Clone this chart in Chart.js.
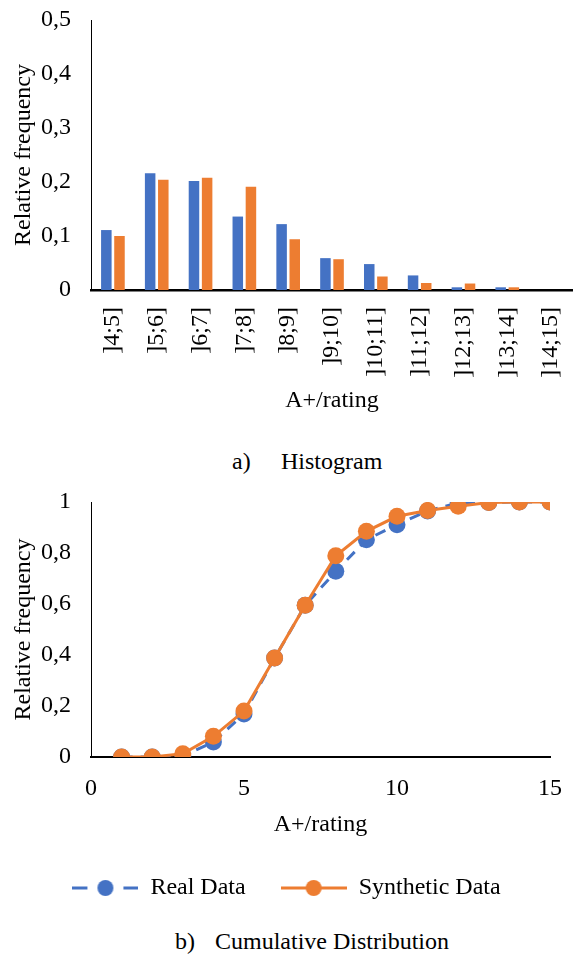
<!DOCTYPE html>
<html>
<head>
<meta charset="utf-8">
<script src="https://cdn.jsdelivr.net/npm/chart.js@4.4.0/dist/chart.umd.min.js"></script>
<style>
	body { margin: 0; background: #fff; width: 573px; height: 954px; position: relative; overflow: hidden; font-family: "Liberation Serif", serif; }
	canvas { position: absolute; left: 0; }
	.cap { position: absolute; font-size: 24px; color: #000; white-space: pre; line-height: 28px; }
</style>
</head>
<body>
<canvas id="histChart" width="573" height="430" style="top:0"></canvas>
<span class="cap" style="top:447px;left:232px">a)</span>
<span class="cap" style="top:447px;left:281px">Histogram</span>
<canvas id="cumChart" width="573" height="430" style="top:480px"></canvas>
<span class="cap" style="top:927px;left:175px">b)</span>
<span class="cap" style="top:927px;left:215px">Cumulative Distribution</span>

<script>
// Dados do histograma
const categorias = ["]4;5]", "]5;6]", "]6;7]", "]7;8]", "]8;9]", "]9;10]", "]10;11]", "]11;12]", "]12;13]", "]13;14]", "]14;15]"];
const freqReal = [0.111, 0.216, 0.202, 0.136, 0.122, 0.059, 0.048, 0.027, 0.005, 0.005, 0];
const freqSintetico = [0.100, 0.204, 0.208, 0.191, 0.094, 0.057, 0.025, 0.013, 0.012, 0.005, 0];

// Dados da distribuição acumulada
const notas = [1, 2, 3, 4, 5, 6, 7, 8, 9, 10, 11, 12, 13, 14, 15];
const acumReal = [0, 0, 0.003, 0.059, 0.169, 0.388, 0.595, 0.728, 0.852, 0.911, 0.965, 0.996, 0.998, 1, 1];
const acumSintetico = [0, 0, 0.013, 0.081, 0.180, 0.388, 0.595, 0.789, 0.885, 0.944, 0.967, 0.983, 0.998, 1, 1];

const azul = "#4472C4";
const laranja = "#ED7D31";
const fonte = { family: "'Liberation Serif', serif", size: 24 };

Chart.defaults.color = "#000";
Chart.defaults.font = fonte;

function formatarVirgula(v) {
	return parseFloat(Number(v).toFixed(2)).toString().replace(".", ",");
}

// Histograma
new Chart(document.getElementById("histChart"), {
	type: "bar",
	data: {
		labels: categorias,
		datasets: [
			{ label: "Real Data", data: freqReal, backgroundColor: azul, barPercentage: 0.8, categoryPercentage: 0.6 },
			{ label: "Synthetic Data", data: freqSintetico, backgroundColor: laranja, barPercentage: 0.8, categoryPercentage: 0.6 },
		],
	},
	options: {
		responsive: false,
		animation: false,
		layout: { padding: { top: 20, right: 0, left: 0, bottom: 0 } },
		plugins: { legend: { display: false }, tooltip: { enabled: false } },
		scales: {
			x: {
				grid: { display: false, drawTicks: false },
				border: { color: "#000", width: 2.5 },
				ticks: { minRotation: 90, maxRotation: 90, padding: 17, font: fonte, autoSkip: false },
				title: { display: true, text: "A+/rating", font: fonte, padding: { bottom: 15 } },
				afterFit: (s) => { s.height = 140; s.paddingLeft = 0; s.paddingRight = 0; },
			},
			y: {
				min: 0,
				max: 0.5,
				grid: { display: false, drawTicks: false },
				border: { color: "#000", width: 1 },
				ticks: { stepSize: 0.1, padding: 20, font: fonte, callback: formatarVirgula },
				title: { display: true, text: "Relative frequency", font: fonte, padding: { top: 9 } },
				afterFit: (s) => { s.width = 91; s.paddingTop = 0; s.paddingBottom = 0; },
			},
		},
	},
});

// Marcadores da legenda (linha + círculo)
function criarMarcador(cor, tracejado) {
	const c = document.createElement("canvas");
	c.width = 66;
	c.height = 20;
	const ctx = c.getContext("2d");
	ctx.strokeStyle = cor;
	ctx.fillStyle = cor;
	ctx.lineWidth = 3;
	ctx.beginPath();
	if (tracejado) {
		ctx.moveTo(0, 10); ctx.lineTo(15, 10);
		ctx.moveTo(51, 10); ctx.lineTo(66, 10);
	} else {
		ctx.moveTo(0, 10); ctx.lineTo(66, 10);
	}
	ctx.stroke();
	ctx.beginPath();
	ctx.arc(33, 10, 8, 0, Math.PI * 2);
	ctx.fill();
	return c;
}
const marcadorReal = criarMarcador(azul, true);
const marcadorSintetico = criarMarcador(laranja, false);

// Distribuição acumulada
new Chart(document.getElementById("cumChart"), {
	type: "scatter",
	data: {
		datasets: [
			{
				label: "Synthetic Data",
				data: notas.map((x, i) => ({ x: x, y: acumSintetico[i] })),
				showLine: true,
				borderColor: laranja,
				backgroundColor: laranja,
				borderWidth: 3,
				pointRadius: 8.5,
				pointBorderWidth: 0,
			},
			{
				label: "Real Data",
				data: notas.map((x, i) => ({ x: x, y: acumReal[i] })),
				showLine: true,
				borderColor: azul,
				backgroundColor: azul,
				borderWidth: 3,
				borderDash: [11, 8],
				pointRadius: 8.5,
				pointBorderWidth: 0,
			},
		],
	},
	options: {
		responsive: false,
		animation: false,
		layout: { padding: { top: 22, right: 0, left: 0, bottom: 0 } },
		plugins: {
			tooltip: { enabled: false },
			legend: {
				position: "bottom",
				labels: {
					usePointStyle: true,
					pointStyleWidth: 66,
					padding: 35,
					font: fonte,
					generateLabels: () => [
						{ text: "Real Data", pointStyle: marcadorReal, fillStyle: azul, strokeStyle: azul, lineWidth: 0, datasetIndex: 1, fontColor: "#000" },
						{ text: "Synthetic Data", pointStyle: marcadorSintetico, fillStyle: laranja, strokeStyle: laranja, lineWidth: 0, datasetIndex: 0, fontColor: "#000" },
					],
				},
			},
		},
		scales: {
			x: {
				type: "linear",
				min: 0,
				max: 15,
				grid: { display: false, drawTicks: false },
				border: { color: "#000", width: 2 },
				ticks: { stepSize: 5, padding: 17, font: fonte },
				title: { display: true, text: "A+/rating", font: fonte, padding: { bottom: 2 } },
				afterFit: (s) => { s.height = 84; s.paddingLeft = 0; s.paddingRight = 23; },
			},
			y: {
				min: 0,
				max: 1,
				grid: { display: false, drawTicks: false },
				border: { color: "#000", width: 1 },
				ticks: { stepSize: 0.2, padding: 20, font: fonte, callback: formatarVirgula },
				title: { display: true, text: "Relative frequency", font: fonte, padding: { top: 9 } },
				afterFit: (s) => { s.width = 91; s.paddingTop = 0; s.paddingBottom = 0; },
			},
		},
	},
});
</script>
</body>
</html>
